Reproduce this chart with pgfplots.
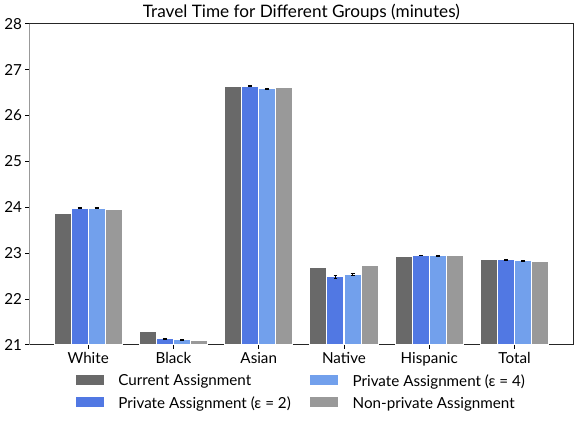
\documentclass[border=0pt]{standalone}
\usepackage{pgfplots}
\pgfplotsset{compat=1.18}
\usepackage{fontspec}
\setmainfont{Lato}
\definecolor{cur}{HTML}{696969}
\definecolor{epstwo}{HTML}{5178E3}
\definecolor{epsfour}{HTML}{72A0EC}
\definecolor{nonpriv}{HTML}{999999}
\begin{document}
\begin{tikzpicture}
\begin{axis}[
    ybar,
    scale only axis,
    width=411.75pt,
    height=243pt,
    xmin=-0.69, xmax=5.69,
    ymin=21, ymax=28,
    bar width=0.2,
    xtick={0,1,2,3,4,5},
    xticklabels={White,Black,Asian,Native,Hispanic,Total},
    ytick={21,22,...,28},
    tick align=outside,
    tick pos=left,
    major tick length=3pt,
    tick style={black, line width=0.5pt},
    axis line style={line width=0.8pt, black!85},
    /pgf/number format/assume math mode=true,
    ticklabel style={font=\fontsize{11.5}{13}\selectfont},
    yticklabel style={xshift=1pt},
    xticklabel style={yshift=1pt},
    title={Travel Time for Different Groups (minutes)},
    every axis title shift=0pt,
    title style={font=\fontsize{13}{15}\selectfont, at={(0.5,1)}, anchor=base, yshift=4.5pt},
    legend style={at={(0.5,-0.075)}, anchor=north, draw=none, fill=none,
        font=\fontsize{11.5}{13}\selectfont, row sep=2.5pt,
        /tikz/every odd column/.append style={column sep=8pt},
        /tikz/every even column/.append style={column sep=12pt}},
    legend cell align=left,
    legend columns=2,
    transpose legend,
    legend image code/.code={\draw[#1, draw=white] (0pt,-3pt) rectangle (22pt,5.5pt);},
    every axis plot/.append style={draw=white, line width=0.8pt},
    error bars/error bar style={black, line width=0.8pt},
    error bars/error mark options={black, rotate=90, mark size=1.5pt, line width=0.6pt},
]
\addplot[fill=cur, bar shift=-0.3] coordinates {
    (0,23.87) (1,21.30) (2,26.63) (3,22.68) (4,22.93) (5,22.87)};
\addlegendentry{Current Assignment}
\addplot[fill=epstwo, bar shift=-0.1,
    error bars/.cd, y dir=both, y explicit] coordinates {
    (0,23.98) +- (0,0.010)
    (1,21.13) +- (0,0.008)
    (2,26.64) +- (0,0.015)
    (3,22.48) +- (0,0.025)
    (4,22.95) +- (0,0.008)
    (5,22.85) +- (0,0.006)};
\addlegendentry{Private Assignment (ε = 2)}
\addplot[fill=epsfour, bar shift=0.1,
    error bars/.cd, y dir=both, y explicit] coordinates {
    (0,23.98) +- (0,0.010)
    (1,21.11) +- (0,0.008)
    (2,26.58) +- (0,0.018)
    (3,22.53) +- (0,0.025)
    (4,22.94) +- (0,0.008)
    (5,22.83) +- (0,0.006)};
\addlegendentry{Private Assignment (ε = 4)}
\addplot[fill=nonpriv, bar shift=0.3] coordinates {
    (0,23.95) (1,21.09) (2,26.60) (3,22.73) (4,22.95) (5,22.82)};
\addlegendentry{Non-private Assignment}
\end{axis}
% grey left spine, as in the reference
\draw[line width=1pt, black!40] (current axis.south west) -- (current axis.north west);
% padding to match the reference margins
\path ([xshift=6.5pt]current axis.east);
\path (current bounding box.south) ++(0,-12pt);
\end{tikzpicture}
\end{document}
